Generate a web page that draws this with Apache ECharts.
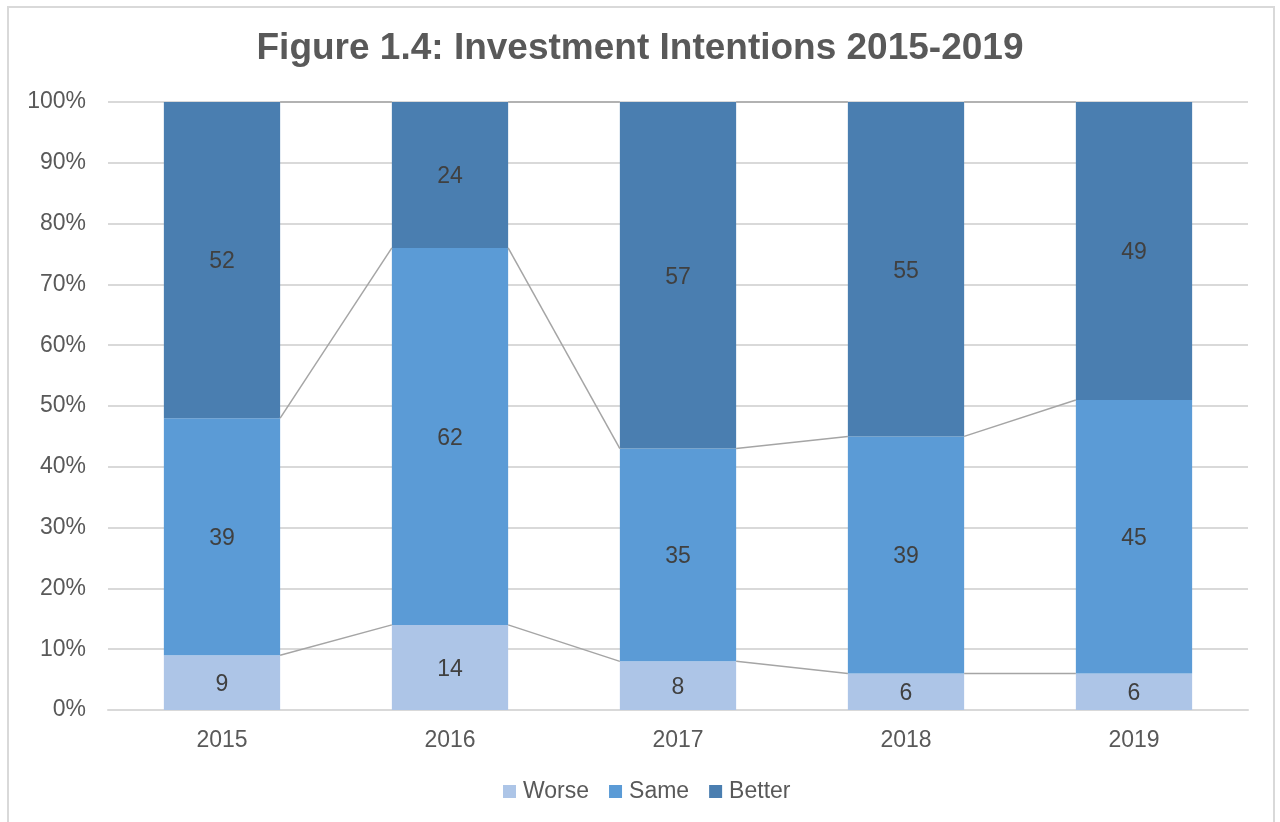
<!DOCTYPE html>
<html>
<head>
<meta charset="utf-8">
<script src="https://cdn.jsdelivr.net/npm/echarts@6/dist/echarts.min.js"></script>
<style>
  html, body { margin: 0; padding: 0; background: #fff; overflow: hidden; }
  #chart { position: absolute; left: 0; top: 0; width: 1280px; height: 822px; }
  #frame { position: absolute; left: 7px; top: 6px; width: 1268px; height: 830px;
           border: 2px solid #d9d9d9; box-sizing: border-box; pointer-events: none; }
</style>
</head>
<body>
<div id="chart"></div>
<div id="frame"></div>
<script>
// data
const years = ['2015', '2016', '2017', '2018', '2019'];
const worse = [9, 14, 8, 6, 6];
const same = [39, 62, 35, 39, 45];
const better = [52, 24, 57, 55, 49];
const yTicks = [0, 10, 20, 30, 40, 50, 60, 70, 80, 90, 100];

const BAR_RATIO = 0.51;

// series lines (Excel style) join the stack tops of neighbouring bars
const linkData = [];
for (let i = 0; i < years.length - 1; i++) {
    linkData.push([i, worse[i], worse[i + 1]]);
    linkData.push([i, worse[i] + same[i], worse[i + 1] + same[i + 1]]);
    linkData.push([i, worse[i] + same[i] + better[i], worse[i + 1] + same[i + 1] + better[i + 1]]);
}

const chart = echarts.init(document.getElementById('chart'));

const labelStyle = {
    show: true,
    position: 'inside',
    offset: [0, 2],
    fontSize: 23,
    color: '#404040',
    fontFamily: 'Liberation Sans, Arial, sans-serif'
};

const option = {
    animation: false,
    textStyle: { fontFamily: 'Liberation Sans, Arial, sans-serif' },
    title: {
        text: 'Figure 1.4: Investment Intentions 2015-2019',
        left: 'center',
        top: 25,
        textStyle: { fontSize: 37, fontWeight: 'bold', color: '#595959' }
    },
    legend: {
        data: ['Worse', 'Same', 'Better'],
        bottom: 14,
        left: 498,
        icon: 'rect',
        itemWidth: 13,
        itemHeight: 13,
        itemGap: 20,
        textStyle: { fontSize: 23, color: '#595959', padding: [0, 0, 0, 2] }
    },
    grid: { left: 108, right: 32, top: 102, bottom: 112 },
    xAxis: {
        type: 'category',
        data: years,
        axisLine: { show: true, lineStyle: { color: '#d9d9d9', width: 2 } },
        axisTick: { show: false },
        axisLabel: { fontSize: 23, color: '#595959', margin: 19 }
    },
    yAxis: {
        type: 'value',
        min: 0,
        max: 100,
        interval: 10,
        axisLine: { show: false },
        axisTick: { show: false },
        splitLine: { lineStyle: { color: '#d9d9d9', width: 2 } },
        axisLabel: {
            fontSize: 23,
            color: '#595959',
            margin: 22,
            formatter: v => yTicks.includes(v) ? v + '%' : ''
        }
    },
    series: [
        {
            name: 'Worse', type: 'bar', stack: 'total', barWidth: (BAR_RATIO * 100) + '%',
            itemStyle: { color: '#adc5e7' }, label: labelStyle, data: worse
        },
        {
            name: 'Same', type: 'bar', stack: 'total', barWidth: (BAR_RATIO * 100) + '%',
            itemStyle: { color: '#5b9bd6' }, label: labelStyle, data: same
        },
        {
            name: 'Better', type: 'bar', stack: 'total', barWidth: (BAR_RATIO * 100) + '%',
            itemStyle: { color: '#4a7eb0' }, label: labelStyle, data: better
        },
        {
            name: 'lines',
            type: 'custom',
            z: 5,
            silent: true,
            data: linkData,
            renderItem: function (params, api) {
                const i = api.value(0);
                const p1 = api.coord([i, api.value(1)]);
                const p2 = api.coord([i + 1, api.value(2)]);
                const half = api.size([1, 0])[0] * BAR_RATIO / 2;
                return {
                    type: 'line',
                    shape: { x1: p1[0] + half, y1: p1[1], x2: p2[0] - half, y2: p2[1] },
                    style: { stroke: '#a5a5a5', lineWidth: 1.5 }
                };
            }
        }
    ]
};

chart.setOption(option);
window.addEventListener('resize', chart.resize);
</script>
</body>
</html>
